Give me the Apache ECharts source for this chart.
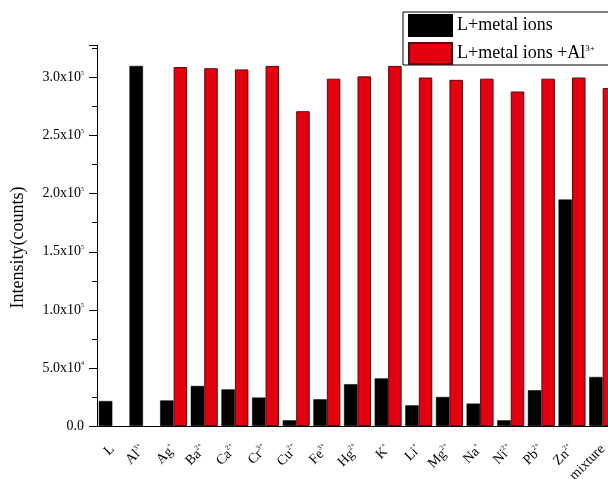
<!DOCTYPE html>
<html>
<head>
<meta charset="utf-8">
<script src="https://cdn.jsdelivr.net/npm/echarts@6/dist/echarts.min.js"></script>
<style>
  html, body { margin: 0; padding: 0; background: #fff; }
  #chart { width: 608px; height: 479px; }
</style>
</head>
<body>
<div id="chart"></div>
<script>
// categories: ion symbol + charge (superscript)
const ionNames = ['L', 'Al', 'Ag', 'Ba', 'Ca', 'Cr', 'Cu', 'Fe', 'Hg', 'K', 'Li', 'Mg', 'Na', 'Ni', 'Pb', 'Zn', 'mixture'];
const ionCharges = ['', '3+', '+', '2+', '2+', '3+', '2+', '3+', '2+', '+', '+', '2+', '+', '2+', '2+', '2+', ''];

// intensity (counts); null = no bar
const metalOnly = [21500, 310000, 22000, 34500, 31500, 24500, 4900, 23000, 36000, 41000, 17800, 25000, 19300, 4900, 30800, 195000, 42200];
const metalPlusAl = [null, null, 309000, 308000, 307000, 310000, 271000, 299000, 301000, 310000, 300000, 298000, 299000, 288000, 299000, 300000, 291000];

// y tick labels (every 5.0x10^4), superscript written as {s|..}
const yTickLabels = ['0.0', '5.0x10{s|4}', '1.0x10{s|5}', '1.5x10{s|5}', '2.0x10{s|5}', '2.5x10{s|5}', '3.0x10{s|5}'];

const serif = '"Liberation Serif", "DejaVu Serif", serif';
const categories = ionNames.map((n, i) => n + (ionCharges[i] ? '^' + ionCharges[i] : ''));

const chart = echarts.init(document.getElementById('chart'));

const option = {
  backgroundColor: '#fff',
  animation: false,
  grid: { left: 97, top: 45, width: 521, bottom: 53, outerBoundsMode: 'none', containLabel: false },
  legend: {
    orient: 'vertical',
    left: 403,
    top: 12,
    icon: 'rect',
    itemWidth: 43,
    itemHeight: 21,
    itemGap: 5,
    itemTextGap: 9,
    padding: [2, 30, 0, 5],
    borderColor: '#000',
    borderWidth: 1,
    borderRadius: 0,
    textStyle: {
      color: '#000',
      fontFamily: serif,
      fontSize: 18,
      rich: {
        s: { fontSize: 9, fontFamily: serif, color: '#000', padding: [0, 0, 9, 0] }
      }
    },
    formatter: (name) => name.replace('^3+', '{s|3+}'),
    data: ['L+metal ions', 'L+metal ions +Al^3+']
  },
  xAxis: [
    {
      type: 'category',
      data: categories,
      boundaryGap: true,
      axisLine: { lineStyle: { color: '#000', width: 1 } },
      axisTick: { alignWithLabel: true, length: 8, lineStyle: { color: '#000' } },
      axisLabel: {
        rotate: 45,
        margin: 21,
        interval: 0,
        color: '#000',
        fontFamily: serif,
        fontSize: 14,
        formatter: (v) => {
          const p = v.split('^');
          return p.length > 1 ? p[0] + '{s|' + p[1] + '}' : p[0];
        },
        rich: {
          s: { fontSize: 7, fontFamily: serif, color: '#000', padding: [0, 0, 9, 0] }
        }
      }
    },
    {
      type: 'category',
      data: categories,
      position: 'bottom',
      boundaryGap: true,
      axisLine: { show: false },
      axisTick: { alignWithLabel: false, length: 5, lineStyle: { color: '#000' } },
      axisLabel: { show: false }
    }
  ],
  yAxis: {
    type: 'value',
    min: 0,
    max: 328000,
    interval: 50000,
    name: 'Intensity(counts)',
    nameLocation: 'middle',
    nameGap: 70,
    nameTextStyle: { color: '#000', fontFamily: serif, fontSize: 18, padding: [0, 24, 0, 0] },
    axisLine: { show: true, lineStyle: { color: '#000', width: 1 } },
    axisTick: { show: true, length: 8, lineStyle: { color: '#000' } },
    minorTick: { show: true, splitNumber: 2, length: 5, lineStyle: { color: '#000' } },
    splitLine: { show: false },
    axisLabel: {
      color: '#000',
      fontFamily: serif,
      fontSize: 14,
      margin: 13,
      showMaxLabel: false,
      formatter: (v) => {
        const idx = Math.round(v / 50000);
        return v % 50000 === 0 && yTickLabels[idx] !== undefined ? yTickLabels[idx] : '';
      },
      rich: {
        s: { fontSize: 6, fontFamily: serif, color: '#000', padding: [0, 0, 9, 0] }
      }
    }
  },
  series: [
    {
      name: 'L+metal ions',
      type: 'bar',
      data: metalOnly,
      barWidth: 13.5,
      barGap: '0%',
      itemStyle: { color: '#000', borderColor: '#000', borderWidth: 0.5 }
    },
    {
      name: 'L+metal ions +Al^3+',
      type: 'bar',
      data: metalPlusAl,
      barWidth: 13.5,
      barGap: '0%',
      itemStyle: { color: '#e3000f', borderColor: '#5a0a0a', borderWidth: 1 }
    }
  ]
};

chart.setOption(option);
</script>
</body>
</html>
